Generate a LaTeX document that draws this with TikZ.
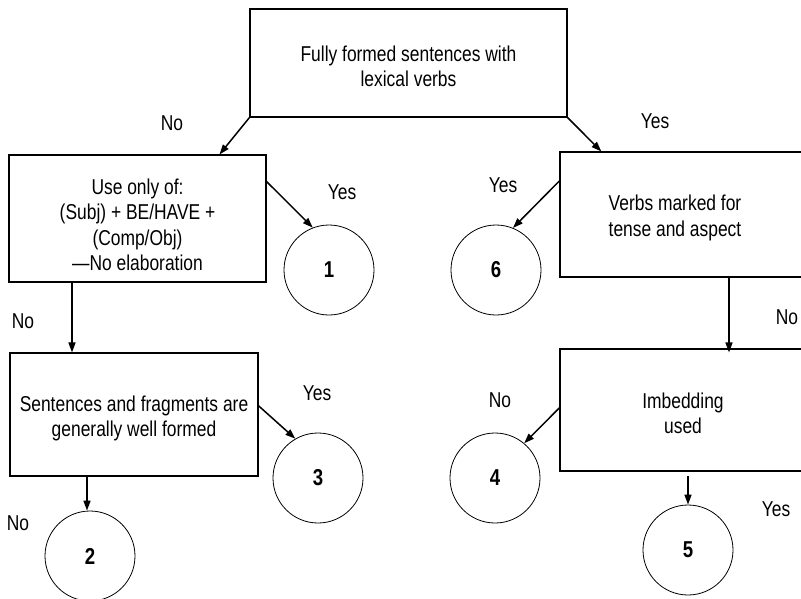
\documentclass[tikz,border=0pt]{standalone}
\usepackage{fontspec}
\setmainfont{Liberation Sans}[FakeStretch=0.81]
\usetikzlibrary{arrows.meta}
\begin{document}
\begin{tikzpicture}[x=1pt,y=-1pt,
  box/.style={draw, line width=1.1pt, rectangle, inner sep=0pt},
  txt/.style={align=center, inner sep=0pt, font=\fontsize{21.5}{25.5}\selectfont},
  lbl/.style={inner sep=0pt, font=\fontsize{21.5}{24}\selectfont},
  endc/.style={draw, line width=0.8pt, circle, minimum size=90pt, inner sep=0pt,
    font=\fontsize{23}{26}\selectfont\bfseries},
  arr/.style={line width=1.5pt, -{Triangle[length=10pt,width=7pt]}}
]
\useasboundingbox (0,0) rectangle (801,598);
\begin{scope}
\clip (0,0) rectangle (801,598);
% boxes
\node[box, minimum width=317pt, minimum height=108pt] (top) at (408.5,63) {};
\node[txt] (t0) at (408.5,66.5) {Fully formed sentences with\\lexical verbs};
\node[box, minimum width=257pt, minimum height=127pt] (b1) at (137.5,218.5) {};
\node[txt] (t1) at (137.5,225) {Use only of:\\(Subj) + BE/HAVE +\\(Comp/Obj)\\—No elaboration};
\node[box, minimum width=250pt, minimum height=125pt] (b2) at (685,214.5) {};
\node[txt] (t2) at (675,218) {Verbs marked for\\tense and aspect};
\node[box, minimum width=248pt, minimum height=123pt] (b3) at (134,414.5) {};
\node[txt] (t3) at (134,418.5) {Sentences and fragments are\\generally well formed};
\node[box, minimum width=250pt, minimum height=122pt] (b4) at (685,410) {};
\node[txt] (t4) at (683,413.5) {Imbedding\\used};
% end circles
\node[endc] (c1) at (329,270) {1};
\node[endc] (c6) at (496,270) {6};
\node[endc] (c3) at (318,478) {3};
\node[endc] (c2) at (90,556) {2};
\node[endc] (c4) at (495,478) {4};
\node[endc] (c5) at (688,550) {5};
% connectors
\draw[arr] (top.south west) -- (b1.38);
\draw[arr] (top.south east) -- (b2.143);
\draw[arr] (b1.16) -- (c1.111);
\draw[arr] ([xshift=-65.5pt]b1.south) -- ([xshift=-65.5pt]b1.south |- b3.north);
\draw[arr] (b2.165) -- (c6.68);
\draw[arr] ([xshift=44pt]b2.south) -- ([xshift=44pt,yshift=-4pt]b2.south |- b4.north);
\draw[arr] (b3.4) -- (c3.120);
\draw[arr] ([xshift=-47pt]b3.south) -- ([xshift=-47pt]b3.south |- c2.north);
\draw[arr] (b4.179) -- (c4.50);
\draw[arr, shorten <=4pt] (c5.north |- b4.south) -- (c5.north);
% labels
\node[lbl] (l1) at (172,123) {No};
\node[lbl] (l2) at (655,121) {Yes};
\node[lbl] (l3) at (342,192) {Yes};
\node[lbl] (l4) at (503,185) {Yes};
\node[lbl] (l5) at (23,321) {No};
\node[lbl] (l6) at (787,317) {No};
\node[lbl] (l7) at (317,393) {Yes};
\node[lbl] (l8) at (500,400) {No};
\node[lbl] (l9) at (18,523) {No};
\node[lbl] (l10) at (776,509) {Yes};
\end{scope}
\end{tikzpicture}
\end{document}
